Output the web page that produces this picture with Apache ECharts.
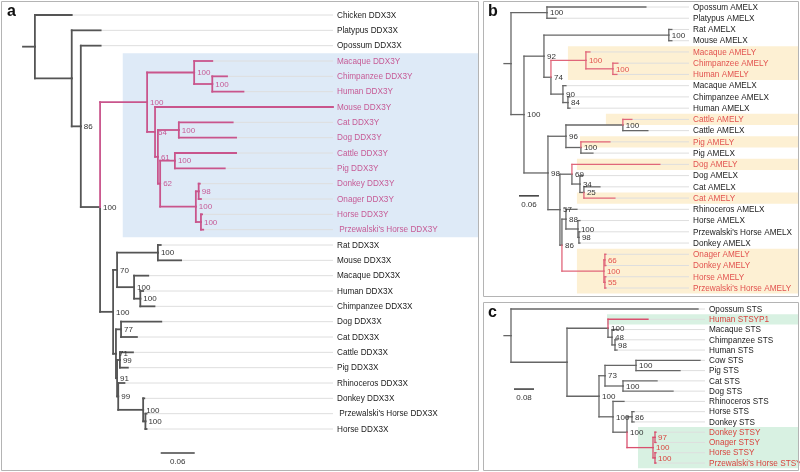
<!DOCTYPE html>
<html><head><meta charset="utf-8">
<script src="https://cdn.jsdelivr.net/npm/echarts/dist/echarts.min.js"></script>
<style>html,body{margin:0;padding:0;background:#fff}#chart{width:800px;height:472px}</style>
</head><body><div id="chart"></div>
<script>
// ---------------- DATA ----------------
// Panel a: DDX3X / DDX3Y
const aLeaves = ['Chicken DDX3X','Platypus DDX3X','Opossum DDX3X','Macaque DDX3Y','Chimpanzee DDX3Y','Human DDX3Y','Mouse DDX3Y','Cat DDX3Y','Dog DDX3Y','Cattle DDX3Y','Pig DDX3Y','Donkey DDX3Y','Onager DDX3Y','Horse DDX3Y'," Przewalski's Horse DDX3Y",'Rat DDX3X','Mouse DDX3X','Macaque DDX3X','Human DDX3X','Chimpanzee DDX3X','Dog DDX3X','Cat DDX3X','Cattle DDX3X','Pig DDX3X','Rhinoceros DDX3X','Donkey DDX3X'," Przewalski's Horse DDX3X",'Horse DDX3X'];
// [node, parent, branch length, support]
const aEdges = [
 ['a0','',0.021,''],
 ['Chicken DDX3X','a0',0.065,''],
 ['a1','a0',0.065,''],
 ['Platypus DDX3X','a1',0.051,''],
 ['a2','a1',0.016,'86'],
 ['Opossum DDX3X','a2',0.035,''],
 ['a3','a2',0.034,'100'],
 ['aY','a3',0.083,'100'],
 ['a4','aY',0.083,'100'],
 ['Macaque DDX3Y','a4',0.032,''],
 ['a5','a4',0.032,'100'],
 ['Chimpanzee DDX3Y','a5',0.026,''],
 ['Human DDX3Y','a5',0.055,''],
 ['a6','aY',0.014,'64'],
 ['Mouse DDX3Y','a6',0.314,''],
 ['a7','a6',0.005,'61'],
 ['a8','a7',0.037,'100'],
 ['Cat DDX3Y','a8',0.095,''],
 ['Dog DDX3Y','a8',0.101,''],
 ['a9','a7',0.004,'62'],
 ['a10','a9',0.026,'100'],
 ['Cattle DDX3Y','a10',0.108,''],
 ['Pig DDX3Y','a10',0.088,''],
 ['a11','a9',0.063,'100'],
 ['a12','a11',0.005,'98'],
 ['Donkey DDX3Y','a12',0.002,''],
 ['Onager DDX3Y','a12',0.004,''],
 ['a13','a11',0.009,'100'],
 ['Horse DDX3Y','a13',0.002,''],
 [" Przewalski's Horse DDX3Y",'a13',0.004,''],
 ['a14','a3',0.023,'100'],
 ['a15','a14',0.007,'70'],
 ['a16','a15',0.072,'100'],
 ['Rat DDX3X','a16',0.005,''],
 ['Mouse DDX3X','a16',0.041,''],
 ['a17','a15',0.030,'100'],
 ['Macaque DDX3X','a17',0.025,''],
 ['a18','a17',0.011,'100'],
 ['Human DDX3X','a18',0.005,''],
 ['Chimpanzee DDX3X','a18',0.025,''],
 ['a19','a14',0.005,'71'],
 ['a20','a19',0.009,'77'],
 ['Dog DDX3X','a20',0.071,''],
 ['Cat DDX3X','a20',0.028,''],
 ['a21','a19',0.002,'91'],
 ['a22','a21',0.005,'99'],
 ['Cattle DDX3X','a22',0.023,''],
 ['Pig DDX3X','a22',0.014,''],
 ['a23','a21',0.002,'99'],
 ['Rhinoceros DDX3X','a23',0.011,''],
 ['a24','a23',0.044,'100'],
 ['Donkey DDX3X','a24',0.002,''],
 ['a25','a24',0.004,'100'],
 [" Przewalski's Horse DDX3X",'a25',0.002,''],
 ['Horse DDX3X','a25',0.002,'']
];
const aYClades = ['aY'];
const aBandRows = [[3,14]];
const aScaleLen = 0.06;

// Panel b: AMELX / AMELY
const bLeaves = ['Opossum AMELX','Platypus AMELX','Rat AMELX','Mouse AMELX','Macaque AMELY','Chimpanzee AMELY','Human AMELY','Macaque AMELX','Chimpanzee AMELX','Human AMELX','Cattle AMELY','Cattle AMELX','Pig AMELY','Pig AMELX','Dog AMELY','Dog AMELX','Cat AMELX','Cat AMELY','Rhinoceros AMELX','Horse AMELX',"Przewalski's Horse AMELX",'Donkey AMELX','Onager AMELY','Donkey AMELY','Horse AMELY',"Przewalski's Horse AMELY"];
const bEdges = [
 ['b0','',0.021,''],
 ['b1','b0',0.108,'100'],
 ['Opossum AMELX','b1',0.297,''],
 ['Platypus AMELX','b1',0.027,''],
 ['b2','b0',0.039,'100'],
 ['b3','b2',0.060,'92'],
 ['b4','b3',0.375,'100'],
 ['Rat AMELX','b4',0.009,''],
 ['Mouse AMELX','b4',0.009,''],
 ['b5','b3',0.021,'74'],
 ['bY1','b5',0.105,'100'],
 ['Macaque AMELY','bY1',0.012,''],
 ['b6','bY1',0.081,'100'],
 ['Chimpanzee AMELY','b6',0.015,''],
 ['Human AMELY','b6',0.012,''],
 ['b7','b5',0.036,'90'],
 ['Macaque AMELX','b7',0.009,''],
 ['b8','b7',0.015,'84'],
 ['Chimpanzee AMELX','b8',0.006,''],
 ['Human AMELX','b8',0.006,''],
 ['b9','b2',0.072,'98'],
 ['b10','b9',0.054,'96'],
 ['b11','b10',0.171,'100'],
 ['Cattle AMELY','b11',0.027,''],
 ['Cattle AMELX','b11',0.075,''],
 ['b12','b10',0.045,'100'],
 ['Pig AMELY','b12',0.087,''],
 ['Pig AMELX','b12',0.036,''],
 ['bZ','b9',0.036,'57'],
 ['b13','bZ',0.036,'69'],
 ['Dog AMELY','b13',0.264,''],
 ['b14','b13',0.024,'34'],
 ['Dog AMELX','b14',0.009,''],
 ['b15','b14',0.012,'25'],
 ['Cat AMELX','b15',0.048,''],
 ['Cat AMELY','b15',0.093,''],
 ['b17','bZ',0.006,'86'],
 ['b18','b17',0.012,'88'],
 ['Rhinoceros AMELX','b18',0.033,''],
 ['b19','b18',0.036,'100'],
 ['Horse AMELX','b19',0.006,''],
 ['b20','b19',0.003,'98'],
 ["Przewalski's Horse AMELX",'b20',0.003,''],
 ['Donkey AMELX','b20',0.003,''],
 ['bY2','b17',0.126,'100'],
 ['b21','bY2',0.003,'66'],
 ['Onager AMELY','b21',0.003,''],
 ['Donkey AMELY','b21',0.003,''],
 ['b22','bY2',0.003,'55'],
 ['Horse AMELY','b22',0.003,''],
 ["Przewalski's Horse AMELY",'b22',0.003,'']
];
const bYClades = ['bY1','Cattle AMELY','Pig AMELY','Dog AMELY','Cat AMELY','bY2'];
const bBandRows = [[4,6],[10,10],[12,12],[14,14],[17,17],[22,25]];
const bScaleLen = 0.06;

// Panel c: STS / STSY
const cLeaves = ['Opossum STS','Human STSYP1','Macaque STS','Chimpanzee STS','Human STS','Cow STS','Pig STS','Cat STS','Dog STS','Rhinoceros STS','Horse STS','Donkey STS','Donkey STSY','Onager STSY','Horse STSY',"Przewalski's Horse STSY"];
const cEdges = [
 ['c0','',0.028,''],
 ['Opossum STS','c0',0.748,''],
 ['c1','c0',0.224,''],
 ['c2','c1',0.164,'100'],
 ['Human STSYP1','c2',0.160,''],
 ['c3','c2',0.016,'48'],
 ['Macaque STS','c3',0.024,''],
 ['c4','c3',0.012,'98'],
 ['Chimpanzee STS','c4',0.008,''],
 ['Human STS','c4',0.008,''],
 ['c5','c1',0.128,'100'],
 ['c6','c5',0.024,'73'],
 ['c7','c6',0.124,'100'],
 ['Cow STS','c7',0.256,''],
 ['Pig STS','c7',0.176,''],
 ['c8','c6',0.072,'100'],
 ['Cat STS','c8',0.136,''],
 ['Dog STS','c8',0.200,''],
 ['c9','c5',0.056,'100'],
 ['Rhinoceros STS','c9',0.044,''],
 ['c10','c9',0.056,'100'],
 ['c11','c10',0.020,'86'],
 ['Horse STS','c11',0.008,''],
 ['Donkey STS','c11',0.008,''],
 ['cY','c10',0.104,'100'],
 ['c12','cY',0.008,'97'],
 ['Donkey STSY','c12',0.004,''],
 ['Onager STSY','c12',0.004,''],
 ['c13','cY',0.008,'100'],
 ['Horse STSY','c13',0.004,''],
 ["Przewalski's Horse STSY",'c13',0.004,'']
];
const cYClades = ['Human STSYP1','cY'];
const cBandRows = [[1,1],[12,15]];
const cScaleLen = 0.08;

// ---------------- LAYOUT / STYLE ----------------
function hasFont(f){
  const c=document.createElement('canvas').getContext('2d');
  const s='Przewalski Horse mmmwwwiii 0123';
  c.font='20px monospace'; const w0=c.measureText(s).width;
  c.font="20px '"+f+"', monospace"; return Math.abs(c.measureText(s).width-w0)>0.5;
}
const NARROW = hasFont('Liberation Sans Narrow');
const LEAF_FONT = NARROW ? "10px 'Liberation Sans Narrow'" : "8.2px 'Liberation Sans', Arial, sans-serif";
const SUP_FONT = "8px 'Liberation Sans', Arial, sans-serif";

const panels = [
 {leaves:aLeaves, edges:aEdges, hi:aYClades, bands:aBandRows, scaleLen:aScaleLen,
  grid:{left:23,top:15,width:310,height:414}, xMax:0.547, frame:[1,1,477,469],
  bandX:[0.176], bandColor:'#deeaf7', scalePos:[0.243,28.57],
  branch:'#555555', branchW:1.8, hiBranch:'#c9558c', hiText:'#c65b96', text:'#222'},
 {leaves:bLeaves, edges:bEdges, hi:bYClades, bands:bBandRows, scaleLen:bScaleLen,
  grid:{left:504,top:7,width:185,height:281}, xMax:0.5556, frame:[483,1,315,295],
  bandX:[0.192,0.306,0.228,0.219,0.219,0.219], bandColor:'#fdf0d3', scalePos:[0.045,16.8],
  branch:'#666666', branchW:1.3, hiBranch:'#e0667a', hiText:'#e2534f', text:'#222'},
 {leaves:cLeaves, edges:cEdges, hi:cYClades, bands:cBandRows, scaleLen:cScaleLen,
  grid:{left:504,top:309,width:201,height:154}, xMax:0.804, frame:[483,302,315,168],
  bandX:[0.412,0.536], bandColor:'#d8f1e2', scalePos:[0.04,7.8],
  branch:'#666666', branchW:1.3, hiBranch:'#d9506e', hiText:'#d8443f', text:'#222'}
];

function buildPrims(P){
  const nodes={}; let root=null;
  P.edges.forEach(([id,par,len,sup])=>{nodes[id]={id,par,len,sup,kids:[]};});
  P.edges.forEach(([id,par])=>{ if(par) nodes[par].kids.push(nodes[id]); else root=nodes[id]; });
  (function sx(n,x0){ n.x=x0+n.len; n.kids.forEach(k=>sx(k,n.x)); })(root,0);
  (function sy(n){
    if(!n.kids.length){ n.y=P.leaves.indexOf(n.id); }
    else { n.kids.forEach(sy); const ys=n.kids.map(k=>k.y); n.y=(Math.min(...ys)+Math.max(...ys))/2; }
  })(root);
  (function sh(n,h){ n.hi = h || P.hi.includes(n.id); n.kids.forEach(k=>sh(k,n.hi)); })(root,false);
  const bands=[], leaders=[], segG=[], segH=[], texts=[];
  P.bands.forEach(([r0,r1],i)=>bands.push({t:'band',x:P.bandX[i],y0:r0-0.5,y1:r1+0.5}));
  Object.values(nodes).forEach(n=>{
    const col = n.hi ? P.hiBranch : P.branch;
    const arr = n.hi ? segH : segG;
    if(!n.par){ arr.push({t:'seg',x1:0,y1:n.y,x2:n.x,y2:n.y,c:col,w:P.branchW}); }
    else {
      const p=nodes[n.par];
      arr.push({t:'seg',x1:p.x,y1:p.y,x2:p.x,y2:n.y,c:col,w:P.branchW});
      arr.push({t:'seg',x1:p.x,y1:n.y,x2:n.x,y2:n.y,c:col,w:P.branchW});
    }
    if(!n.kids.length){
      leaders.push({t:'seg',x1:n.x,y1:n.y,x2:P.xMax,y2:n.y,c:'#dedede',w:1,cap:'butt'});
      texts.push({t:'text',x:P.xMax,y:n.y,dx:4,dy:0.5,text:n.id,font:LEAF_FONT,fill:n.hi?P.hiText:P.text,align:'left'});
    } else if(n.sup){
      texts.push({t:'text',x:n.x,y:n.y,dx:3,dy:0.5,text:n.sup,font:SUP_FONT,fill:n.hi?P.hiText:'#333',align:'left'});
    }
  });
  const [sx0,sy0]=P.scalePos;
  segG.push({t:'seg',x1:sx0,y1:sy0,x2:sx0+P.scaleLen,y2:sy0,c:'#444',w:1.6,cap:'butt'});
  texts.push({t:'text',x:sx0+P.scaleLen/2,y:sy0,dx:0,dy:9,text:String(P.scaleLen.toFixed(2)),font:SUP_FONT,fill:'#333',align:'center'});
  return bands.concat(leaders,segG,segH,texts);
}

const option={animation:false,grid:[],xAxis:[],yAxis:[],series:[],graphic:[]};
panels.forEach((P,i)=>{
  const prims=buildPrims(P);
  option.grid.push(Object.assign({containLabel:false},P.grid));
  option.xAxis.push({type:'value',gridIndex:i,min:0,max:P.xMax,show:false});
  option.yAxis.push({type:'value',gridIndex:i,min:0,max:P.leaves.length-1,inverse:true,show:false});
  const right = P.frame[0]+P.frame[2];
  option.series.push({
    type:'custom', xAxisIndex:i, yAxisIndex:i, silent:true, clip:false,
    data: prims.map(p=>[p.x!==undefined?p.x:p.x1, p.y!==undefined?p.y:(p.y1!==undefined?p.y1:p.y0)]),
    renderItem:(params,api)=>{
      const p=prims[params.dataIndex];
      if(p.t==='band'){
        const a=api.coord([p.x,p.y0]), b=api.coord([p.x,p.y1]);
        return {type:'rect',shape:{x:a[0],y:a[1],width:right-a[0],height:b[1]-a[1]},style:{fill:P.bandColor}};
      }
      if(p.t==='seg'){
        const a=api.coord([p.x1,p.y1]), b=api.coord([p.x2,p.y2]);
        return {type:'line',shape:{x1:a[0],y1:a[1],x2:b[0],y2:b[1]},style:{stroke:p.c,lineWidth:p.w,lineCap:p.cap||'square'}};
      }
      const a=api.coord([p.x,p.y]);
      return {type:'text',x:a[0]+p.dx,y:a[1]+p.dy,style:{text:p.text,font:p.font,fill:p.fill,align:p.align,verticalAlign:'middle'}};
    }
  });
  option.graphic.push({type:'rect',z:100,shape:{x:P.frame[0]+0.5,y:P.frame[1]+0.5,width:P.frame[2],height:P.frame[3]},style:{fill:'none',stroke:'#b4b4b4',lineWidth:1}});
});
const letters=[['a',7,4],['b',488,4],['c',488,305]];
letters.forEach(([t,x,y])=>option.graphic.push({type:'text',z:100,x:x,y:y,style:{text:t,fill:'#111',font:"bold 16px 'Liberation Sans', Arial, sans-serif"}}));

const chart=echarts.init(document.getElementById('chart'),null,{renderer:'canvas'});
chart.setOption(option);
</script></body></html>
